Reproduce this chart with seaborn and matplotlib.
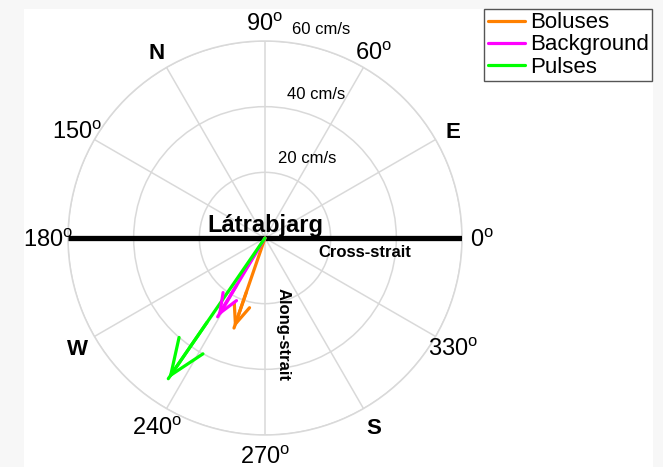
import numpy as np
import pandas as pd
import matplotlib
matplotlib.use("Agg")
import matplotlib.pyplot as plt
from matplotlib.patches import Rectangle
from matplotlib.transforms import offset_copy
import seaborn as sns

# Mean current vectors at Látrabjarg (direction in degrees, speed in cm/s)
series = ["Boluses", "Background", "Pulses"]
directions_deg = [251.0, 239.0, 235.5]
speeds_cms = [29.0, 28.0, 52.0]
colors = ["#ff8000", "#ff00ff", "#00ff00"]

ring_speeds = [20, 40, 60]
ring_labels = ["20 cm/s", "40 cm/s", "60 cm/s"]
angle_ticks = [0, 60, 90, 150, 180, 240, 270, 330]
compass_angles = [120, 30, 210, 300]
compass_labels = ["N", "E", "W", "S"]

sns.set_style("white")
plt.rcParams["font.family"] = ["Liberation Sans", "DejaVu Sans"]
plt.rcParams["mathtext.fontset"] = "custom"
plt.rcParams["mathtext.rm"] = "Liberation Sans"
plt.rcParams["text.color"] = "black"

W, H = 663, 467
fig = plt.figure(figsize=(W / 100, H / 100), dpi=100, facecolor="#f7f7f7")
fig.patches.append(Rectangle((24 / W, 0), (653 - 24) / W, 1 - 9 / H,
                             transform=fig.transFigure, facecolor="white",
                             edgecolor="none", zorder=-10))

ax = fig.add_axes([68 / W, 32 / H, 394 / W, 394 / H], projection="polar")
ax.set_facecolor("white")
rmax = 60
ax.set_ylim(0, rmax)
ax.set_yticks(ring_speeds)
ax.set_yticklabels([])
ax.set_xticks(np.deg2rad(np.arange(0, 360, 30)))
ax.set_xticklabels([])
ax.grid(True, color="#d9d9d9", linewidth=1.1)
ax.spines["polar"].set_color("#d9d9d9")
ax.spines["polar"].set_linewidth(1.1)

# Current vector shafts
rows = []
for name, d, s in zip(series, directions_deg, speeds_cms):
    th = np.deg2rad(d)
    rows.append({"series": name, "theta": th, "speed": 0.0})
    rows.append({"series": name, "theta": th, "speed": s})
df = pd.DataFrame(rows)
sns.lineplot(data=df, x="theta", y="speed", hue="series", hue_order=series,
             palette=colors, estimator=None, sort=False, linewidth=2.3,
             ax=ax, zorder=5)
ax.set_xlabel("")
ax.set_ylabel("")
ax.set_ylim(0, rmax)

# Open arrowheads scaled with vector length
px_per_unit = 197 / rmax
for d, s, c in zip(directions_deg, speeds_cms, colors):
    th = np.deg2rad(d)
    hl = 0.21 * s * px_per_unit * 0.72
    hw = hl * np.tan(np.deg2rad(22))
    ax.annotate("", xy=(th, s), xytext=(th, s * 0.6),
                arrowprops=dict(arrowstyle=f"->,head_length={hl:.2f},head_width={hw:.2f}",
                                color=c, lw=2.3, shrinkA=0, shrinkB=0,
                                mutation_scale=1),
                zorder=6)

# Cross-strait axis
for th in (np.pi, 0.0):
    ax.plot([th, th], [0, rmax], color="black", linewidth=3.8,
            solid_capstyle="butt", zorder=4)

# Angle and compass labels
label_tr = offset_copy(ax.transData, fig=fig, x=0, y=-3, units="dots")
for a in angle_ticks:
    ax.text(np.deg2rad(a), rmax * 1.1, f"{a}$^{{\\mathrm{{o}}}}$",
            ha="center", va="center", fontsize=17, clip_on=False,
            transform=label_tr)
for a, lab in zip(compass_angles, compass_labels):
    ax.text(np.deg2rad(a), rmax * 1.1, lab, ha="center", va="center",
            fontsize=16, fontweight="bold", clip_on=False, transform=label_tr)

# Ring speed labels
ring_pos = [(0.608, 0.701), (0.629, 0.864), (0.642, 1.028)]
for (x, y), lab in zip(ring_pos, ring_labels):
    ax.text(x, y, lab, transform=ax.transAxes, ha="center", va="center",
            fontsize=12, clip_on=False)

ax.text(0.5, 0.515, "Látrabjarg", transform=ax.transAxes, ha="center",
        va="baseline", fontsize=17, fontweight="bold", zorder=7)
ax.text(0.754, 0.464, "Cross-strait", transform=ax.transAxes, ha="center",
        va="center", fontsize=12, fontweight="bold")
ax.text(0.546, 0.254, "Along-strait", transform=ax.transAxes, ha="center",
        va="center", fontsize=12, fontweight="bold", rotation=-90)

handles, labels = ax.get_legend_handles_labels()
ax.legend(handles, labels, loc="upper right",
          bbox_to_anchor=(652 / W, 1 - 9 / H), bbox_transform=fig.transFigure,
          fontsize=16, frameon=True, fancybox=False, edgecolor="#555555",
          framealpha=1, borderpad=0.15, labelspacing=0.05, handlelength=1.7,
          handletextpad=0.2, borderaxespad=0)
ax.get_legend().get_frame().set_linewidth(1.0)

fig.savefig("out.png", dpi=100, facecolor=fig.get_facecolor())
